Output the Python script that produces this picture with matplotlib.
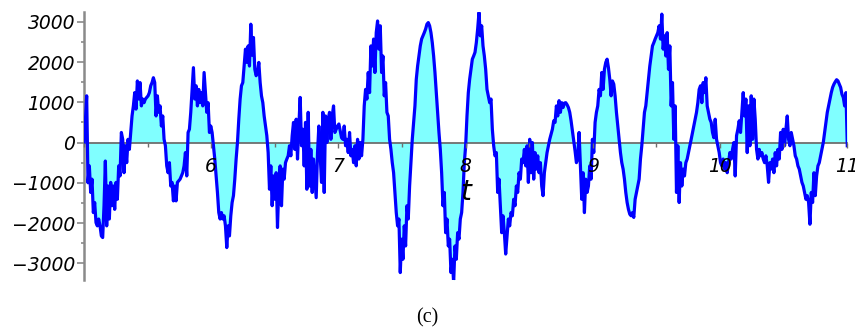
import numpy as np
import matplotlib
matplotlib.use("Agg")
import matplotlib.pyplot as plt
from matplotlib.ticker import MultipleLocator

# ---- data ----
T_START = 5.0
T_END = 11.0

seg1 = [0, 500, 1160, -1000, -580, -1240, -910, -1740, -1490, -1990, -2070, -1900, -2070, -2320, -2360,
        -1570, -460, -2070, -1080, -1900, -990, -1570, -1080, -1660, -990, -1410, -580, -830, 250, 80,
        -750, -80, -500, 80, -170, 250, 660, 910, 1240, 830, 1530, 1080, 1490, 910, 1080, 990, 1080,
        1120, 1160, 1240, 1410, 1490, 1610, 1490, 660, 1160, 750, 910, 410, 660, 80, -80, -580, -750,
        -500, -1080, -990, -1450, -1080, -1450, -990, -950, -910, -830, -750, -580, -250, -830, 250,
        330, 750, 1320, 1860, 1080, 1410, 910, 1320, 990, 1240, 910, 1740, 1240, 750, 990, 250]

seg2 = [410, 250, -80, -410, -830, -1240, -1740, -1900, -1740, -1900, -1820, -2070, -2610, -2070, -2320,
        -1820, -1490, -1320, -910, -410, 0, 580, 1080, 1410, 1490, 1900, 2320, 1990, 2400, 1900, 2940,
        2170, 2610, 1820, 1660, 1740, 1990, 1490, 1160, 990, 660, 410, 170, -250, -1160, -580, -1570,
        -830, -1410, -750, -2110, -1080, -580, -1570, -660, -910, -500, -410, -330, -80, -330, 170, 500,
        -170, 580, -410, 410, 1120, -80, 330, -580, 500, -1160, 750, -1080, -170, -1240, -410, -910,
        -1370, -250, 410, -330, -990, 750, -1240, 660, 0, 580, 750, 80, 660, 910, 250]

seg3 = [330, 410, 460, 290, 120, 80, 410, -80, 80, -250, 250, -330, -170, -500, -80, -580, 80, -410, 0,
        -330, 80, 910, 1320, 1080, 1740, 1240, 2400, 1900, 2570, 1740, 2730, 3020, 2320, 2900, 1740,
        2150, 1160, 1490, 750, 660, 80, -170, -500, -750, -1240, -1740, -2070, -1900, -3230, -2400,
        -2900, -2070, -2570, -1570, -1900, -1080, -500, 80, 500, 910, 1570, 1900, 2150, 2400, 2570,
        2650, 2730, 2820, 2940, 2980, 2900, 2730, 2480, 2150, 1740, 1240, 750, 250, -170, -750, -1570,
        -1240, -2240, -1900, -2570, -2400, -3230, -2900, -3480, -2570, -2900, -2240, -2400, -1900, -1740]

seg4 = [-1240, -500, -80, 660, 1240, 1570, 1820, 2070, 2150, 2240, 2480, 2820, 3230, 2650, 2900, 2400,
        2150, 1820, 1320, 1160, 990, 1080, 330, -80, -330, -250, -1240, -910, -1570, -2240, -1820,
        -2240, -2770, -2320, -1900, -2070, -1740, -1820, -1410, -1570, -1080, -1240, -750, -910, -410,
        -500, -170, -580, -80, -990, 80, -750, 0, -910, -250, -660, -330, -750, -500, -1080, -1320,
        -750, -500, -250, -80, 80, 210, 330, 540, 500, 910, 660, 1040, 750, 990, 870, 980, 990, 940,
        870, 750, 540, 290, 40, -210, -500, -410, 250, -580, -1410, -750, -1740, -910, -1240]

seg5 = [-1080, -580, -910, 80, -250, 500, 750, 910, 1320, 1160, 1740, 1320, 1820, 1990, 2070, 1860,
        1570, 1160, 1530, 1450, 1160, 750, 410, 80, -250, -500, -660, -910, -1240, -1490, -1660,
        -1780, -1820, -1740, -1860, -1410, -1240, -1080, -910, -410, -80, 330, 750, 910, 1240, 1570,
        1900, 2150, 2400, 2480, 2570, 2650, 2730, 2900, 2570, 3190, 2320, 2650, 2150, 2730, 1820,
        2400, 910, 1490, 80, 910, -1240, -80, -1490, -500, -1080, -660, -830, -500, -410, -250, -80,
        80, 250, 410, 580, 750, 990, 1320, 1410, 990, 1490, 1240, 1610, 910, 750, 580, 500, 250, 120]

seg6 = [580, 80, -80, -250, -500, -580, -410, -660, -500, -750, -500, -250, -410, -170, 0, -830, 170,
        330, 540, 250, 750, 1240, 660, 1080, -250, 910, -80, 1160, 80, 1080, 580, -170, -410, -170,
        -330, -250, -410, -500, -330, -580, -990, -500, -660, -410, -750, -250, -580, -170, -410, 250,
        -170, 330, -80, 330, 660, 80, -80, 250, 80, -80, -330, -410, -580, -660, -830, -990, -1080,
        -1240, -1410, -1320, -1490, -2030, -1240, -1490, -750, -1320, -830, -580, -500, -330, -170, 0,
        250, 500, 750, 910, 1080, 1240, 1370, 1450, 1510, 1560, 1530, 1450, 1370, 1200, 1120, 910,
        1240, -80]

signal = np.array(seg1 + seg2 + seg3 + seg4 + seg5 + seg6, dtype=float)
t = np.linspace(T_START, T_END, len(signal))

y_ticks = [-3000, -2000, -1000, 0, 1000, 2000, 3000]
x_ticks = [6, 7, 8, 9, 10, 11]

# ---- figure ----
fig = plt.figure(figsize=(8.55, 3.29), dpi=100)
ax = fig.add_axes([84 / 855, 1 - 280 / 329, (847.3 - 84) / 855, (280 - 11.7) / 329])

ax.fill_between(t, signal, 0, color="#80ffff", linewidth=0, zorder=1)
ax.plot(t, signal, color="#0000ff", linewidth=2.3, zorder=3)

ax.set_xlim(T_START, T_END)
ax.set_ylim(-3415, 3250)

for s in ["top", "right"]:
    ax.spines[s].set_visible(False)
ax.spines["bottom"].set_position(("data", 0))
ax.spines["bottom"].set_color("#6e6e6e")
ax.spines["bottom"].set_linewidth(1.3)
ax.spines["bottom"].set_zorder(2)
ax.spines["left"].set_color("#8a8a8a")
ax.spines["left"].set_linewidth(1.8)

ax.set_xticks(x_ticks)
ax.set_xticklabels([str(v) for v in x_ticks])
ax.xaxis.set_minor_locator(MultipleLocator(0.5))
ax.set_yticks(y_ticks)
ax.yaxis.set_minor_locator(MultipleLocator(500))

for lab in ax.get_xticklabels() + ax.get_yticklabels():
    lab.set_fontfamily("DejaVu Sans")
    lab.set_fontstyle("italic")
    lab.set_fontsize(13.5)
    lab.set_color("black")

ax.tick_params(axis="x", which="major", direction="out", length=3.6, width=1.0,
               color="#6e6e6e", pad=7)
ax.tick_params(axis="x", which="minor", direction="out", length=2.8, width=1.0,
               color="#6e6e6e")
ax.tick_params(axis="y", which="major", direction="out", length=5, width=1.2,
               color="#8a8a8a", pad=1.5)
ax.tick_params(axis="y", which="minor", direction="out", length=2.5, width=1.2,
               color="#8a8a8a")
ax.xaxis.set_zorder(4)

ax.set_xlabel("t", fontsize=20, fontstyle="italic", family="DejaVu Sans", va="center")
ax.xaxis.set_label_coords(0.5, 0.329)

fig.text(427 / 855, 1 - 318 / 329, "(c)", ha="center", va="center",
         fontsize=14.5, family="Liberation Serif")

fig.savefig("out.png", dpi=100)
